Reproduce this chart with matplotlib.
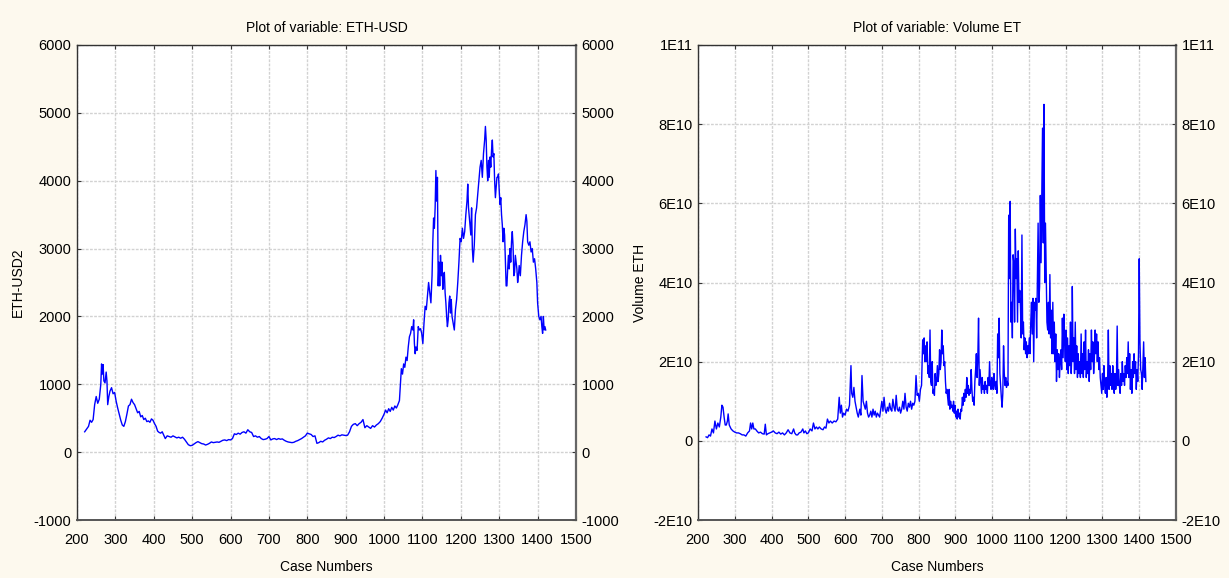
import numpy as np
import matplotlib
matplotlib.use("Agg")
import matplotlib.pyplot as plt

plt.rcParams['font.family'] = ['Liberation Sans', 'DejaVu Sans']

# ETH-USD price (case number, value)
eth_case = [220, 225, 230, 234, 238, 242, 246, 250, 254, 258, 262, 264, 266, 268, 270, 273, 276, 278, 280, 283,
            286, 290, 294, 298, 302, 306, 310, 314, 318, 322, 326, 330, 334, 338, 342, 346, 350, 354, 358, 362,
            366, 370, 374, 378, 382, 386, 390, 394, 398, 402, 406, 410, 414, 418, 422, 426, 430, 435, 440, 445,
            450, 455, 460, 465, 470, 475, 480, 485, 490, 495, 500, 505, 510, 515, 520, 525, 530, 535, 540, 545,
            550, 555, 560, 565, 570, 575, 580, 585, 590, 595, 600, 605, 610, 615, 620, 625, 630, 635, 640, 645,
            650, 655, 660, 665, 670, 675, 680, 685, 690, 695, 700, 705, 710, 715, 720, 725, 730, 735, 740, 745,
            750, 755, 760, 765, 770, 775, 780, 785, 790, 795, 800, 805, 810, 815, 820, 825, 830, 835, 840, 845,
            850, 855, 860, 865, 870, 875, 880, 885, 890, 895, 900, 905, 910, 915, 920, 925, 930, 935, 940, 945,
            950, 955, 960, 965, 970, 975, 980, 985, 990, 995, 1000, 1004, 1008, 1012, 1016, 1020, 1024, 1028, 1032, 1036,
            1040, 1043, 1045, 1048, 1051, 1054, 1057, 1060, 1063, 1066, 1069, 1072, 1075, 1077, 1079, 1081, 1083, 1086, 1089, 1092,
            1095, 1098, 1101, 1104, 1107, 1110, 1113, 1116, 1119, 1122, 1125, 1127, 1129, 1131, 1133, 1135, 1137, 1139, 1141, 1143,
            1145, 1147, 1149, 1151, 1153, 1155, 1157, 1159, 1161, 1163, 1165, 1167, 1169, 1171, 1173, 1175, 1177, 1180, 1183, 1186,
            1189, 1192, 1195, 1198, 1201, 1204, 1207, 1210, 1213, 1216, 1218, 1220, 1223, 1226, 1228, 1230, 1232, 1235, 1238, 1241,
            1244, 1247, 1250, 1253, 1256, 1259, 1262, 1264, 1266, 1268, 1270, 1272, 1274, 1276, 1278, 1280, 1282, 1284, 1286, 1288,
            1290, 1292, 1294, 1296, 1298, 1300, 1302, 1304, 1306, 1308, 1310, 1312, 1314, 1316, 1318, 1320, 1322, 1324, 1326, 1328,
            1330, 1332, 1334, 1336, 1338, 1340, 1342, 1344, 1346, 1348, 1350, 1352, 1355, 1358, 1361, 1364, 1367, 1370, 1372, 1374,
            1377, 1380, 1383, 1386, 1389, 1392, 1395, 1398, 1400, 1403, 1406, 1409, 1411, 1413, 1415, 1417, 1419, 1421]
eth_val = [300, 340, 380, 470, 440, 480, 700, 820, 720, 780, 1000, 1300, 1150, 1290, 1050, 1020, 1180, 1050, 700, 820,
           900, 950, 860, 880, 750, 650, 560, 470, 400, 380, 450, 560, 680, 700, 780, 730, 700, 640, 580, 600,
           520, 540, 480, 500, 450, 460, 440, 490, 470, 420, 380, 310, 290, 280, 300, 250, 200, 240, 230, 220,
           240, 225, 210, 220, 205, 220, 190, 150, 110, 95, 100, 120, 140, 155, 140, 125, 120, 105, 115, 130,
           150, 140, 145, 150, 145, 160, 175, 180, 170, 185, 180, 200, 270, 260, 280, 265, 290, 300, 280, 330,
           300, 290, 230, 240, 220, 230, 200, 185, 190, 200, 230, 180, 195, 200, 185, 200, 190, 195, 175, 160,
           150, 145, 140, 145, 160, 170, 185, 200, 220, 240, 280, 270, 260, 230, 240, 130, 140, 160, 150, 175,
           190, 210, 200, 220, 215, 230, 250, 240, 255, 250, 245, 250, 300, 380, 410, 420, 390, 420, 440, 480,
           360, 390, 370, 350, 390, 370, 400, 420, 450, 500, 560, 620, 580, 640, 600, 660, 620, 680, 650, 700,
           760, 1050, 1230, 1150, 1300, 1250, 1400, 1350, 1550, 1700, 1750, 1850, 1800, 1950, 1600, 1450, 1550, 1500, 1850, 1800,
           1820, 1750, 1600, 1900, 2150, 2100, 2300, 2500, 2350, 2200, 2600, 3100, 3450, 3300, 3600, 4150, 3700, 4050, 2450, 2800,
           2450, 2900, 2600, 2800, 2400, 2600, 2650, 2350, 2200, 2000, 1850, 1950, 2200, 2300, 2050, 2250, 2000, 1900, 1800, 2100,
           2250, 2500, 2800, 3150, 3100, 3300, 3150, 3250, 3500, 3700, 3950, 3600, 3400, 3200, 3600, 3000, 2800, 3050, 3500, 3600,
           3800, 4000, 4200, 4300, 4050, 4400, 4600, 4800, 4600, 4200, 4000, 4300, 4050, 4350, 4200, 4450, 4600, 4350, 4400, 4000,
           3750, 3900, 4050, 4050, 4100, 3850, 3650, 3750, 3500, 3350, 3100, 3300, 3200, 2800, 2450, 2450, 2700, 2900, 2700, 3000,
           2800, 3100, 3250, 3050, 2600, 2650, 2900, 2800, 2700, 2500, 2600, 2750, 2600, 2900, 3100, 3250, 3350, 3500, 3400, 3100,
           3050, 3100, 2950, 3000, 2800, 2850, 2700, 2500, 2200, 2000, 1950, 2000, 1850, 1750, 2000, 1800, 1850, 1800]

# Volume ETH, in units of 1E10
vol_case = [222, 226, 230, 234, 238, 242, 246, 250, 254, 258, 262, 265, 268, 271, 274, 277, 280, 282, 285, 290,
            295, 300, 305, 310, 315, 320, 325, 330, 335, 340, 343, 346, 349, 352, 356, 360, 365, 370, 375, 380,
            383, 386, 390, 395, 400, 405, 410, 415, 420, 425, 430, 435, 440, 445, 450, 455, 460, 463, 467, 471,
            475, 480, 485, 488, 492, 496, 500, 505, 510, 514, 518, 522, 526, 530, 535, 540, 544, 548, 552, 556,
            560, 565, 570, 575, 580, 584, 587, 590, 593, 596, 600, 604, 608, 612, 616, 618, 621, 624, 627, 630,
            633, 636, 640, 643, 646, 649, 652, 655, 658, 661, 664, 667, 670, 673, 676, 679, 682, 685, 688, 691,
            694, 697, 700, 703, 706, 709, 712, 715, 718, 721, 724, 727, 730, 733, 736, 739, 742, 745, 748, 751,
            754, 757, 760, 763, 766, 769, 772, 775, 778, 781, 784, 787, 790, 793, 796, 799, 802, 805, 808, 811,
            813, 815, 817, 819, 821, 823, 825, 827, 829, 831, 833, 835, 837, 839, 841, 843, 845, 847, 849, 851,
            853, 855, 857, 859, 861, 863, 865, 867, 869, 871, 873, 875, 877, 879, 881, 883, 885, 887, 889, 891,
            893, 895, 897, 899, 901, 903, 905, 907, 909, 911, 913, 915, 917, 919, 921, 923, 925, 927, 929, 931,
            933, 935, 937, 939, 941, 943, 945, 947, 949, 951, 953, 955, 957, 959, 961, 963, 965, 967, 969, 971,
            973, 975, 977, 979, 981, 983, 985, 987, 989, 991, 993, 995, 997, 999, 1001, 1003, 1005, 1007, 1009, 1011,
            1013, 1015, 1017, 1019, 1021, 1023, 1025, 1027, 1029, 1031, 1033, 1035, 1037, 1039, 1041, 1043, 1045, 1047, 1049, 1051,
            1053, 1055, 1057, 1059, 1061, 1063, 1065, 1067, 1069, 1071, 1073, 1075, 1077, 1079, 1081, 1083, 1085, 1087, 1089, 1091,
            1093, 1095, 1097, 1099, 1101, 1103, 1105, 1107, 1109, 1111, 1113, 1115, 1117, 1119, 1121, 1123, 1125, 1127, 1129, 1131,
            1133, 1135, 1137, 1139, 1141, 1143, 1145, 1147, 1149, 1151, 1153, 1155, 1157, 1159, 1161, 1163, 1165, 1167, 1169, 1171,
            1173, 1175, 1177, 1179, 1181, 1183, 1185, 1187, 1189, 1191, 1193, 1195, 1197, 1199, 1201, 1203, 1205, 1207, 1209, 1211,
            1213, 1215, 1217, 1218, 1220, 1222, 1224, 1226, 1228, 1230, 1232, 1234, 1236, 1238, 1240, 1242, 1244, 1246, 1248, 1250,
            1252, 1254, 1256, 1258, 1260, 1262, 1264, 1266, 1268, 1270, 1272, 1274, 1276, 1278, 1280, 1282, 1284, 1286, 1288, 1290,
            1292, 1294, 1296, 1298, 1300, 1302, 1304, 1306, 1308, 1310, 1312, 1314, 1316, 1318, 1320, 1322, 1324, 1326, 1328, 1330,
            1332, 1334, 1336, 1338, 1340, 1342, 1344, 1346, 1348, 1350, 1352, 1354, 1356, 1358, 1360, 1362, 1364, 1366, 1368, 1370,
            1372, 1374, 1376, 1378, 1380, 1382, 1384, 1386, 1388, 1390, 1392, 1394, 1396, 1398, 1400, 1402, 1404, 1406, 1408, 1410,
            1412, 1414, 1416, 1418]
vol_val = [0.1, 0.08, 0.15, 0.12, 0.3, 0.2, 0.5, 0.3, 0.45, 0.35, 0.6, 0.9, 0.85, 0.6, 0.4, 0.4, 0.5, 0.68, 0.4, 0.3,
           0.25, 0.22, 0.2, 0.2, 0.18, 0.15, 0.15, 0.12, 0.2, 0.25, 0.45, 0.3, 0.45, 0.3, 0.3, 0.25, 0.2, 0.22, 0.18, 0.17,
           0.42, 0.15, 0.18, 0.2, 0.22, 0.25, 0.2, 0.18, 0.22, 0.17, 0.2, 0.15, 0.2, 0.28, 0.2, 0.18, 0.3, 0.2, 0.15, 0.15,
           0.2, 0.22, 0.3, 0.2, 0.25, 0.18, 0.2, 0.3, 0.25, 0.45, 0.3, 0.35, 0.3, 0.35, 0.3, 0.28, 0.35, 0.32, 0.55, 0.45,
           0.5, 0.45, 0.5, 0.48, 0.55, 1.1, 0.7, 0.9, 0.6, 0.7, 0.65, 0.8, 0.75, 0.9, 1.9, 1.2, 1.1, 1.35, 1.0, 0.85,
           0.7, 0.6, 0.8, 0.65, 1.65, 1.0, 0.9, 0.8, 1.0, 0.7, 0.6, 0.65, 0.75, 0.6, 0.8, 0.65, 0.75, 0.6, 0.7, 0.65,
           0.6, 0.8, 1.0, 0.75, 1.1, 0.8, 0.7, 0.85, 0.75, 0.95, 0.8, 0.75, 1.05, 0.85, 0.75, 1.15, 0.8, 0.75, 0.85, 0.7,
           0.8, 1.0, 0.8, 1.2, 0.85, 0.75, 0.95, 0.85, 1.0, 0.8, 0.95, 0.9, 1.0, 1.65, 1.15, 1.2, 1.0, 1.3, 1.4, 2.55,
           2.2, 2.6, 2.0, 2.4, 2.0, 2.5, 1.7, 1.9, 1.6, 2.8, 1.5, 1.4, 2.0, 1.2, 1.3, 1.15, 1.7, 1.4, 1.5, 1.9,
           1.5, 1.7, 2.3, 1.8, 2.0, 2.8, 2.2, 2.4, 1.9, 2.0, 1.5, 1.2, 1.3, 1.1, 0.9, 1.3, 0.8, 1.0, 0.85, 0.9,
           0.75, 1.0, 0.7, 0.9, 0.6, 0.75, 0.55, 0.8, 0.6, 0.7, 0.55, 0.8, 0.75, 1.1, 0.9, 1.2, 1.0, 1.3, 1.1, 1.6,
           1.2, 1.4, 1.15, 1.3, 1.2, 1.8, 1.3, 1.0, 1.1, 0.9, 1.5, 1.8, 2.2, 1.6, 2.1, 3.1, 1.4, 1.8, 1.5, 1.2,
           1.6, 1.3, 1.4, 1.2, 1.5, 1.3, 1.4, 1.2, 1.6, 1.4, 2.0, 1.4, 1.3, 1.6, 1.4, 1.3, 1.7, 1.4, 1.3, 1.5,
           1.2, 2.7, 2.1, 3.1, 1.7, 1.4, 1.1, 0.85, 1.2, 2.4, 1.7, 1.4, 1.6, 1.35, 1.5, 1.4, 5.7, 4.1, 6.05, 3.0,
           3.5, 2.6, 4.7, 4.5, 3.0, 5.35, 4.1, 4.6, 3.0, 4.8, 3.5, 3.8, 3.4, 2.6, 5.2, 2.7, 3.0, 2.3, 2.6, 2.2,
           2.5, 2.1, 2.4, 2.2, 2.6, 2.2, 3.0, 3.5, 2.7, 3.6, 2.0, 3.5, 3.3, 3.6, 2.6, 4.0, 5.5, 3.5, 3.9, 6.2,
           4.5, 6.3, 7.9, 5.0, 8.5, 4.0, 5.5, 4.2, 3.0, 2.8, 3.5, 2.7, 4.2, 2.6, 3.3, 2.2, 3.5, 2.2, 3.0, 2.0,
           2.7, 1.5, 2.3, 1.8, 2.2, 1.6, 2.0, 2.3, 1.8, 3.1, 2.1, 3.2, 2.5, 2.0, 2.8, 1.8, 2.6, 1.7, 2.4, 1.9,
           3.0, 1.7, 2.3, 3.9, 2.0, 2.6, 1.7, 3.0, 1.8, 2.4, 1.6, 2.2, 1.7, 2.0, 1.6, 2.7, 1.7, 2.2, 1.6, 2.5,
           1.8, 2.8, 1.6, 2.0, 1.7, 2.3, 1.5, 2.2, 1.8, 2.8, 2.0, 2.5, 1.7, 2.1, 2.8, 2.2, 2.7, 2.0, 2.5, 1.8,
           2.1, 1.6, 1.4, 1.2, 1.7, 1.3, 1.9, 1.4, 1.2, 1.6, 1.1, 1.5, 2.8, 1.3, 1.9, 1.4, 1.7, 1.3, 1.9, 1.5,
           1.2, 1.7, 1.3, 1.5, 2.9, 1.4, 1.8, 1.4, 1.2, 1.7, 1.4, 2.0, 1.5, 1.7, 1.4, 1.9, 1.6, 2.1, 1.7, 2.5,
           1.6, 2.2, 1.3, 1.8, 1.2, 2.0, 1.6, 2.2, 1.7, 2.0, 1.3, 1.8, 1.5, 2.2, 4.6, 2.5, 1.8, 1.7, 1.3, 1.9,
           2.5, 1.6, 2.1, 1.5]

x_ticks = [200, 300, 400, 500, 600, 700, 800, 900, 1000, 1100, 1200, 1300, 1400, 1500]
eth_ticks = [-1000, 0, 1000, 2000, 3000, 4000, 5000, 6000]
vol_ticks = [-2e10, 0, 2e10, 4e10, 6e10, 8e10, 1e11]
vol_tick_labels = ['-2E10', '0', '2E10', '4E10', '6E10', '8E10', '1E11']

W, H = 1229, 578
fig = plt.figure(figsize=(W / 100, H / 100), dpi=100)
fig.patch.set_facecolor('#fdf9ee')


def style(ax, yticks, ylabels):
    ax.set_facecolor('white')
    ax.set_xlim(200, 1500)
    ax.set_xticks(x_ticks)
    ax.set_yticks(yticks)
    ax.set_yticklabels(ylabels)
    ax.set_ylim(yticks[0], yticks[-1])
    ax.grid(True, color='#d2d2d2', linestyle=(0, (2, 1)), linewidth=1)
    ax.set_axisbelow(True)
    ax.tick_params(direction='in', length=3, width=0.8, top=True, right=True,
                   labelright=True, labelsize=10.5, color='#333333', pad=4)
    ax.tick_params(axis='x', pad=9)
    for s in ax.spines.values():
        s.set_color('#333333')
        s.set_linewidth(1.0)
    ax.spines['right'].set_color('#666666')
    ax.spines['right'].set_linewidth(1.6)
    ax.spines['bottom'].set_color('#555555')
    ax.spines['bottom'].set_linewidth(1.4)
    ax.set_xlabel('Case Numbers', fontsize=10, labelpad=10)


ax1 = fig.add_axes([77 / W, (H - 520) / H, (576 - 77) / W, (520 - 45) / H])
ax1.plot(eth_case, eth_val, color='#0000ff', linewidth=1.0)
style(ax1, eth_ticks, [str(t) for t in eth_ticks])
ax1.set_title('Plot of variable: ETH-USD', fontsize=10, pad=9)
ax1.set_ylabel('ETH-USD2', fontsize=10)
ax1.yaxis.set_label_coords(-0.104, 0.5)

ax2 = fig.add_axes([698 / W, (H - 520) / H, (1176 - 698) / W, (520 - 45) / H])
ax2.plot(vol_case, np.array(vol_val) * 1e10, color='#0000ff', linewidth=1.0)
style(ax2, vol_ticks, vol_tick_labels)
ax2.set_title('Plot of variable: Volume ET', fontsize=10, pad=9)
ax2.set_ylabel('Volume ETH', fontsize=10)
ax2.yaxis.set_label_coords(-0.107, 0.5)

fig.savefig('out.png', dpi=100, facecolor=fig.get_facecolor())
